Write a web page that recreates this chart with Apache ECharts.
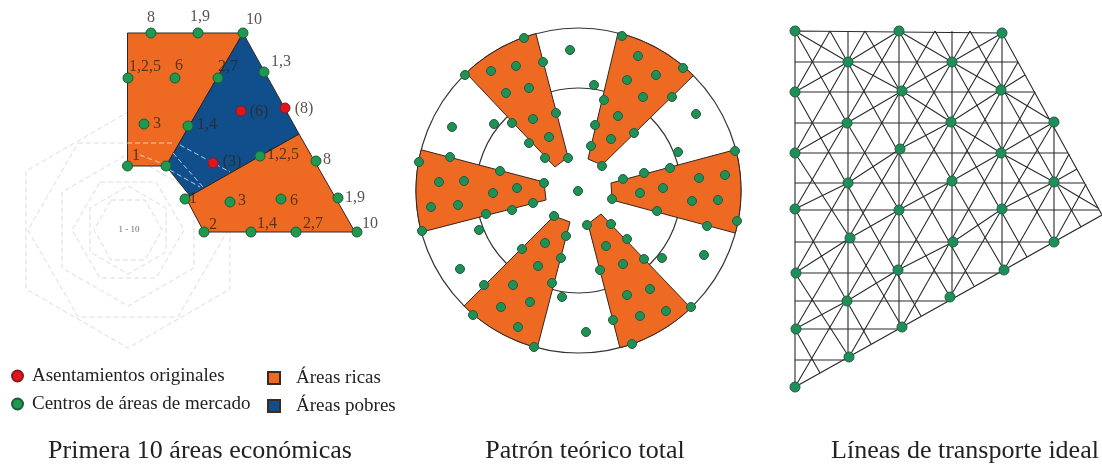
<!DOCTYPE html>
<html>
<head>
<meta charset="utf-8">
<style>html,body{margin:0;padding:0;background:#fff}#chart{width:1102px;height:464px}</style>
<script src="https://cdn.jsdelivr.net/npm/echarts@6/dist/echarts.min.js"></script>
</head>
<body>
<div id="chart"></div>
<script>
// panel 1: first ten economic areas
var richAreas = [
	[[127.5,33],[243,33],[166,166],[127.5,166]],
	[[299,134],[355,232],[204,232],[187,200],[190,195]]
];
var poorAreas = [[[243,33],[299,134],[190,196],[166,166]]];
var hexagons = [
	[[128,112],[230,171],[230,289],[128,348],[26,289],[26,171],[128,112]],
	[[78,143],[178,143],[228,230],[178,317],[78,317],[28,230],[78,143]],
	[[128,154],[194,192],[194,268],[128,306],[62,268],[62,192],[128,154]],
	[[100,182],[156,182],[184,230],[156,278],[100,278],[72,230],[100,182]],
	[[128,186],[166,208],[166,252],[128,274],[90,252],[90,208],[128,186]],
	[[111,200],[145,200],[162,230],[145,260],[111,260],[94,230],[111,200]]
];
var hexOverlay = [
	[[180,145],[230,172]], [[173,153],[203,187]], [[170,170],[200,187]],
	[[127,143],[175,143]], [[140,155],[166,165]]
];
var marketCenters = [
	[151,33],[198,33],[243,33],[128,78],[175,78],[218,78],[264,72],[144,124],[188,126],
	[127.5,166],[166,166],[260,156],[316,161],[185,199],[230,202],[281,199],[338,198],
	[204,232],[251,232],[296,232],[357,232]
];
var originalSettlements = [[241,111],[285,108],[213,163]];
var areaLabels = [
	[151,18,'8'],[200,17,'1,9'],[254,20,'10'],[145,67,'1,2,5'],[179,66,'6'],[228,67,'2,7'],
	[281,62,'1,3'],[259,112,'(6)'],[304,109,'(8)'],[157,124,'3'],[207,125,'1,4'],[136,156,'1'],
	[232,162,'(3)'],[283,155,'1,2,5'],[327,160,'8'],[193,199,'1'],[242,201,'3'],[294,201,'6'],
	[355,198,'1,9'],[213,225,'2'],[267,224,'1,4'],[313,224,'2,7'],[370,224,'10']
];
var innerLabel = [[129,230,'1 - 10']];

// panel 2: theoretical total pattern
var circleCenter = [578.5,190.5];
var circleRadii = [162.5,102.5];
// inner corner, outer corner, outer corner, inner corner
var wedges = [
	[[555,167],[468,75],[536,34],[568,157]],
	[[588,159],[618,33],[692,77],[602,165]],
	[[611,183],[734,150],[735,233],[612,200]],
	[[601,214],[690,307],[620,348],[588,224]],
	[[570,222],[538,345],[464,306],[554,216]],
	[[546,200],[422,232],[422,150],[544,182]]
];
var patternCenters = [
	[524,38],[465,75],[491,71],[516,66],[543,62],[506,93],[529,88],[556,113],[512,123],[533,119],
	[549,137],[529,143],[545,158],[568,158],[494,124],[452,127],[570,50],[594,85],[622,36],[638,56],
	[683,68],[656,75],[627,80],[672,97],[643,97],[604,100],[696,114],[618,116],[595,125],[634,133],
	[611,139],[591,146],[602,166],[678,152],[670,168],[644,173],[623,179],[735,151],[725,175],[699,178],
	[663,188],[640,193],[578,191],[419,162],[450,157],[500,171],[544,183],[439,182],[464,181],[517,188],
	[493,193],[431,207],[458,205],[533,203],[512,210],[486,214],[479,230],[422,231],[460,269],[612,199],
	[692,201],[718,200],[657,211],[707,226],[737,221],[704,255],[662,258],[611,224],[587,225],[627,239],
	[606,246],[644,259],[623,264],[600,270],[650,289],[627,295],[691,307],[666,311],[640,316],[613,320],
	[632,344],[586,332],[554,216],[566,236],[545,243],[522,249],[561,258],[538,266],[552,283],[484,285],
	[513,285],[562,297],[530,302],[501,307],[473,315],[518,327],[534,347]
];

// panel 3: ideal transport lines
var meshOutline = [[[795,31],[1002,33],[1102,215],[795,387],[795,31]]];
var meshVertical = [
	[[848,31],[848,357]],[[899,31],[899,329]],[[952,31],[952,297]],[[1002,33],[1002,271]],[[1054,122],[1054,242]]
];
var meshHorizontal = [
	[[795,62],[1018,62]],[[795,92],[1035,92]],[[795,123],[1053,123]],[[795,153],[1068,153]],
	[[795,183],[1084,183]],[[795,210],[1099,210]],[[795,242],[1054,242]],[[795,273],[1004,273]],
	[[795,301],[950,301]],[[795,329],[902,329]],[[795,360],[845,360]]
];
var meshShallow = [
	[[795,31],[848,62],[902,91],[951,122],[1001,153],[1054,182],[1098,208]],
	[[899,31],[952,62],[1001,90],[1054,122]],
	[[795,92],[848,62],[899,31]],
	[[795,153],[847,123],[902,91],[952,62],[1002,33]],
	[[795,209],[848,183],[900,149],[951,122],[1001,90],[1025,75]],
	[[795,273],[850,238],[899,210],[952,181],[1001,153],[1054,122]],
	[[795,329],[847,301],[898,270],[953,242],[1002,209],[1054,182],[1077,169]]
];
var meshSteep = [
	[[795,31],[847,123],[899,210],[950,297]],[[830,31],[974,286]],[[865,31],[1004,270]],
	[[899,31],[951,122],[1027,257]],[[935,31],[1054,242]],[[970,31],[1081,227]],
	[[795,92],[921,316]],[[795,153],[850,238],[902,327]],[[795,209],[871,344]],
	[[795,273],[849,357]],[[795,329],[820,373]],
	[[795,92],[830,31]],[[795,153],[865,31]],[[795,209],[899,31]],[[795,273],[935,31]],
	[[795,329],[970,31]],[[795,387],[1002,33]],[[849,357],[1018,62]],[[902,327],[1035,92]],
	[[950,297],[1002,209],[1054,122]],[[1004,270],[1054,182],[1069,154]],[[1054,242],[1086,184]]
];
var meshNodes = [
	[795,31],[899,31],[1002,33],[848,62],[952,62],[795,92],[902,91],[1001,90],[847,123],[951,122],
	[1054,122],[795,153],[900,149],[1001,153],[848,183],[952,181],[1054,182],[795,209],[899,210],
	[1002,209],[850,238],[953,242],[1054,242],[796,273],[898,270],[1004,270],[847,301],[950,297],
	[796,329],[902,327],[849,357],[795,387]
];

var panelTitles = [
	[200,'Primera 10 áreas económicas'],
	[585,'Patrón teórico total'],
	[965,'Líneas de transporte ideal']
];

var serif = '"Liberation Serif", serif';
var orange = '#EE6A22', blue = '#114F8C', green = '#1D9A50', red = '#E3141E';

function polygonSeries(name, polys, color) {
	return {
		name: name, type: 'custom', coordinateSystem: 'cartesian2d', z: 3, silent: true,
		itemStyle: {color: color, borderColor: '#3a2a20', borderWidth: 1},
		data: polys.map(function(p, i) { return [i]; }),
		renderItem: function(params, api) {
			return {
				type: 'polygon',
				shape: {points: polys[params.dataIndex].map(function(p) { return api.coord(p); })},
				style: {fill: color, stroke: '#2e2622', lineWidth: 1}
			};
		}
	};
}

function lineSeries(rows, color, width, type, z) {
	return {
		type: 'lines', coordinateSystem: 'cartesian2d', polyline: true, z: z, silent: true,
		lineStyle: {color: color, width: width, type: type, opacity: 1},
		data: rows.map(function(r) { return {coords: r}; })
	};
}

function dotSeries(name, rows, color, size, border) {
	return {
		name: name, type: 'scatter', data: rows, symbolSize: size, z: 6, silent: true,
		itemStyle: {color: color, borderColor: border, borderWidth: 1, opacity: 1}
	};
}

function labelSeries(rows, size, color) {
	return {
		type: 'scatter', data: rows, symbolSize: 1, z: 7, silent: true,
		itemStyle: {color: 'rgba(0,0,0,0)'},
		label: {
			show: true, position: 'inside', fontFamily: serif, fontSize: size, color: color,
			formatter: function(p) { return p.value[2]; }
		}
	};
}

function wedgePoints(w, api) {
	var r = circleRadii[0], cx = circleCenter[0], cy = circleCenter[1];
	var a0 = Math.atan2(w[1][1] - cy, w[1][0] - cx), a1 = Math.atan2(w[2][1] - cy, w[2][0] - cx);
	var d = a1 - a0;
	if (d > Math.PI) d -= 2 * Math.PI;
	if (d < -Math.PI) d += 2 * Math.PI;
	var pts = [api.coord(w[0])];
	for (var i = 0; i <= 24; i++) {
		var a = a0 + d * i / 24;
		pts.push(api.coord([cx + r * Math.cos(a), cy + r * Math.sin(a)]));
	}
	pts.push(api.coord(w[3]));
	return pts;
}

var series = [
	lineSeries(hexagons, '#dcdcdc', 1, [5, 3], 1),
	polygonSeries('Áreas ricas', richAreas, orange),
	polygonSeries('Áreas pobres', poorAreas, blue),
	lineSeries(hexOverlay, 'rgba(255,255,255,0.7)', 1, [5, 3], 4),
	dotSeries('Centros de áreas de mercado', marketCenters, green, 10, '#1d5c38'),
	dotSeries('Asentamientos originales', originalSettlements, red, 10, '#8a1a1a'),
	labelSeries(areaLabels, 16, '#33261f'),
	labelSeries(innerLabel, 9, '#444'),
	{
		type: 'custom', coordinateSystem: 'cartesian2d', z: 2, silent: true,
		data: circleRadii.map(function(r, i) { return [i]; }),
		renderItem: function(params, api) {
			var c = api.coord(circleCenter);
			return {
				type: 'circle',
				shape: {cx: c[0], cy: c[1], r: api.size([circleRadii[params.dataIndex], 0])[0]},
				style: {fill: 'none', stroke: '#333', lineWidth: 1.2}
			};
		}
	},
	{
		type: 'custom', coordinateSystem: 'cartesian2d', z: 3, silent: true,
		data: wedges.map(function(w, i) { return [i]; }),
		renderItem: function(params, api) {
			return {
				type: 'polygon',
				shape: {points: wedgePoints(wedges[params.dataIndex], api)},
				style: {fill: orange, stroke: '#33261f', lineWidth: 1}
			};
		}
	},
	dotSeries('', patternCenters, '#1f9152', 9, '#23594a'),
	lineSeries(meshOutline, '#2a2a2a', 1.1, 'solid', 2),
	lineSeries(meshVertical, '#2a2a2a', 1.1, 'solid', 2),
	lineSeries(meshHorizontal, '#2a2a2a', 1.1, 'solid', 2),
	lineSeries(meshShallow, '#2a2a2a', 1.1, 'solid', 2),
	lineSeries(meshSteep, '#2a2a2a', 1.1, 'solid', 2),
	dotSeries('', meshNodes, '#1f8f58', 10, '#235c48')
];

var chart = echarts.init(document.getElementById('chart'));
chart.setOption({
	animation: false,
	backgroundColor: '#fff',
	textStyle: {fontFamily: serif},
	title: panelTitles.map(function(t) {
		return {
			text: t[1], left: t[0], top: 438, padding: 0, textAlign: 'center',
			textStyle: {fontFamily: serif, fontSize: 26, fontWeight: 'normal', color: '#222'}
		};
	}),
	legend: [
		{
			data: ['Asentamientos originales', 'Centros de áreas de mercado'],
			orient: 'vertical', left: 11, top: 365, padding: 0, itemGap: 6, icon: 'circle',
			itemWidth: 11, itemHeight: 11, selectedMode: false,
			textStyle: {fontFamily: serif, fontSize: 19, color: '#222', padding: [0, 0, 0, 4], lineHeight: 22}
		},
		{
			data: ['Áreas ricas', 'Áreas pobres'],
			orient: 'vertical', left: 267, top: 367, padding: 0, itemGap: 6, icon: 'rect',
			itemWidth: 12, itemHeight: 12, selectedMode: false,
			textStyle: {fontFamily: serif, fontSize: 19, color: '#222', padding: [0, 0, 0, 11], lineHeight: 22}
		}
	],
	grid: {left: 0, right: 0, top: 0, bottom: 0},
	xAxis: {type: 'value', min: 0, max: 1102, show: false},
	yAxis: {type: 'value', min: 0, max: 464, inverse: true, show: false},
	series: series
});
window.addEventListener('resize', chart.resize);
</script>
</body>
</html>
